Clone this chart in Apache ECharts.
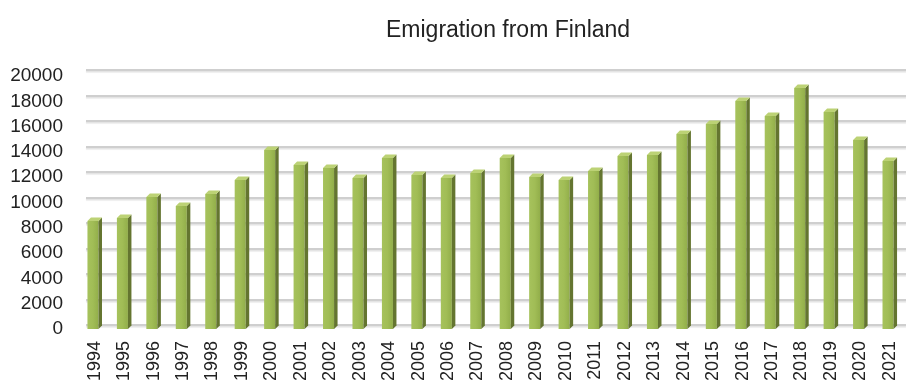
<!DOCTYPE html>
<html>
<head>
<meta charset="utf-8">
<script src="https://cdn.jsdelivr.net/npm/echarts@6/dist/echarts.min.js"></script>
<style>
  html, body { margin: 0; padding: 0; background: #fff; }
  #main { width: 906px; height: 386px; }
</style>
</head>
<body>
<div id="main"></div>
<script>
var years = ['1994', '1995', '1996', '1997', '1998', '1999', '2000', '2001', '2002', '2003',
    '2004', '2005', '2006', '2007', '2008', '2009', '2010', '2011', '2012', '2013',
    '2014', '2015', '2016', '2017', '2018', '2019', '2020', '2021'];

var emigrants = [8540, 8770, 10430, 9720, 10670, 11780, 14150, 12960, 12730, 11940,
    13520, 12170, 11940, 12330, 13520, 12020, 11780, 12490, 13680, 13750,
    15420, 16210, 18020, 16840, 19050, 17150, 14940, 13280];

var yTicks = [0, 20000, 2000];   // min, max, interval

var fontName = "'Liberation Sans', Arial, sans-serif";

// 3d-ish column: front face, dark side face, light top face
function renderColumn(params, api) {
    var top = api.coord([api.value(0), api.value(1)]);
    var base = api.coord([api.value(0), 0]);
    var band = api.size([1, 0])[0];
    var w = band * 0.375;
    var d = 3.5;
    var x0 = top[0] - (w + d) / 2;
    var h = base[1] - top[1];

    return {
        type: 'group',
        children: [
            {
                type: 'rect',
                shape: { x: x0, y: top[1], width: w, height: h },
                style: {
                    fill: new echarts.graphic.LinearGradient(0, 0, 1, 0, [
                        { offset: 0, color: '#a6c25c' },
                        { offset: 0.5, color: '#a1bd56' },
                        { offset: 1, color: '#92ae4a' }
                    ])
                }
            },
            {
                type: 'polygon',
                shape: {
                    points: [[x0 + w, top[1]], [x0 + w + d, top[1] - d],
                        [x0 + w + d, base[1] - d], [x0 + w, base[1]]]
                },
                style: { fill: '#647530' }
            },
            {
                type: 'polygon',
                shape: {
                    points: [[x0, top[1]], [x0 + d, top[1] - d],
                        [x0 + w + d, top[1] - d], [x0 + w, top[1]]]
                },
                style: { fill: '#bcd275' }
            }
        ]
    };
}

var chart = echarts.init(document.getElementById('main'), null, { renderer: 'canvas' });

chart.setOption({
    backgroundColor: '#ffffff',
    animation: false,
    title: {
        text: 'Emigration from Finland',
        left: 381,
        top: 14,
        textStyle: {
            fontFamily: fontName,
            fontSize: 23,
            fontWeight: 'normal',
            color: '#222222'
        }
    },
    grid: [
        // front plane: labels and columns
        { left: 80, right: 1.5, top: 76, bottom: 57 },
        // back wall: gridlines only
        { left: 86, right: 0, top: 70, bottom: 61 }
    ],
    xAxis: [
        {
            type: 'category',
            gridIndex: 0,
            data: years,
            axisLine: { show: false },
            axisTick: { show: false },
            axisLabel: {
                rotate: 90,
                margin: 12,
                interval: 0,
                fontFamily: fontName,
                fontSize: 18,
                color: '#222222'
            }
        },
        {
            type: 'category',
            gridIndex: 1,
            data: years,
            show: false
        }
    ],
    yAxis: [
        {
            type: 'value',
            gridIndex: 0,
            min: yTicks[0],
            max: yTicks[1],
            interval: yTicks[2],
            axisLine: { show: false },
            axisTick: { show: false },
            splitLine: { show: false },
            axisLabel: {
                margin: 17,
                fontFamily: fontName,
                fontSize: 19,
                color: '#222222',
                formatter: function (v) { return String(v); }
            }
        },
        {
            type: 'value',
            gridIndex: 1,
            min: yTicks[0],
            max: yTicks[1],
            interval: yTicks[2],
            axisLine: { show: false },
            axisTick: { show: false },
            axisLabel: { show: false },
            splitLine: {
                show: true,
                lineStyle: {
                    color: '#cfcfcf',
                    width: 2,
                    shadowColor: 'rgba(0,0,0,0.12)',
                    shadowOffsetY: 1.5,
                    shadowBlur: 1
                }
            }
        }
    ],
    series: [
        {
            name: 'Emigration',
            type: 'custom',
            xAxisIndex: 0,
            yAxisIndex: 0,
            renderItem: renderColumn,
            encode: { x: 0, y: 1 },
            data: years.map(function (y, i) { return [i, emigrants[i]]; }),
            z: 5
        }
    ]
});
</script>
</body>
</html>
